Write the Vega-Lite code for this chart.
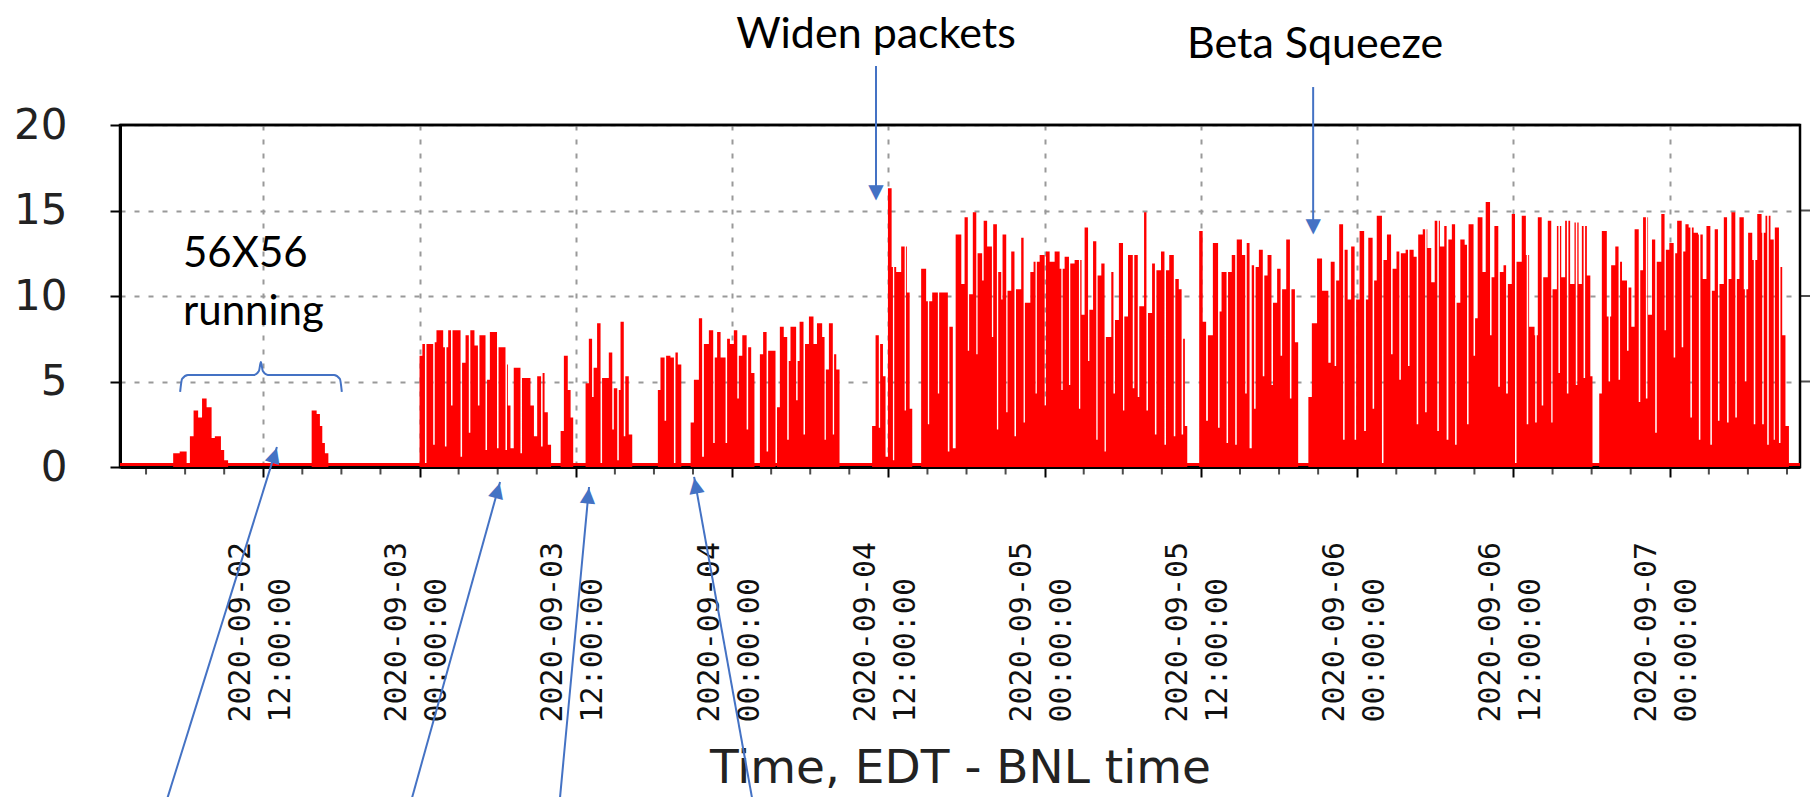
{
"$schema": "https://vega.github.io/schema/vega-lite/v6.json",
"width": 1680, "height": 342,
"autosize": {"type": "none"},
"padding": {"left": 120, "top": 125, "right": 20, "bottom": 330},
"background": "white",
"config": {"view": {"stroke": "black", "strokeWidth": 2.5}, "font": "DejaVu Sans"},
"datasets": {
"series": [
{"t":"2020-09-02T01:00","v":0},{"t":"2020-09-02T05:05","v":0.8},{"t":"2020-09-02T05:35","v":0.9},{"t":"2020-09-02T06:07","v":0.2},{"t":"2020-09-02T06:22","v":1.8},{"t":"2020-09-02T06:39","v":3.3},{"t":"2020-09-02T07:00","v":2.9},{"t":"2020-09-02T07:18","v":4.0},{"t":"2020-09-02T07:39","v":3.5},{"t":"2020-09-02T08:02","v":1.7},{"t":"2020-09-02T08:17","v":1.8},{"t":"2020-09-02T08:45","v":1.0},{"t":"2020-09-02T09:00","v":0.4},{"t":"2020-09-02T09:18","v":0},
{"t":"2020-09-02T15:43","v":3.3},{"t":"2020-09-02T16:06","v":3.1},{"t":"2020-09-02T16:21","v":2.4},{"t":"2020-09-02T16:32","v":1.4},{"t":"2020-09-02T16:44","v":0.8},{"t":"2020-09-02T17:00","v":0},
{"t":"2020-09-03T00:00","v":6.5},{"t":"2020-09-03T00:13","v":7.2},{"t":"2020-09-03T00:25","v":0.2},{"t":"2020-09-03T00:32","v":7.2},{"t":"2020-09-03T01:03","v":1.3},{"t":"2020-09-03T01:10","v":7.3},{"t":"2020-09-03T01:18","v":8.0},{"t":"2020-09-03T01:49","v":7.0},{"t":"2020-09-03T01:57","v":1.2},{"t":"2020-09-03T02:04","v":7.0},{"t":"2020-09-03T02:12","v":8.0},{"t":"2020-09-03T02:25","v":3.6},{"t":"2020-09-03T02:32","v":8.0},{"t":"2020-09-03T03:09","v":0.6},{"t":"2020-09-03T03:16","v":6.1},{"t":"2020-09-03T03:32","v":7.7},{"t":"2020-09-03T03:47","v":2.0},{"t":"2020-09-03T03:54","v":8.0},{"t":"2020-09-03T04:13","v":7.1},{"t":"2020-09-03T04:29","v":3.6},{"t":"2020-09-03T04:36","v":7.7},{"t":"2020-09-03T05:04","v":1.0},{"t":"2020-09-03T05:11","v":5.1},{"t":"2020-09-03T05:24","v":7.9},{"t":"2020-09-03T05:57","v":1.1},{"t":"2020-09-03T06:04","v":7.0},{"t":"2020-09-03T06:36","v":1.0},{"t":"2020-09-03T06:43","v":6.0},{"t":"2020-09-03T06:47","v":3.6},{"t":"2020-09-03T06:59","v":1.1},{"t":"2020-09-03T07:14","v":5.8},{"t":"2020-09-03T07:45","v":0.8},{"t":"2020-09-03T07:52","v":5.2},{"t":"2020-09-03T08:31","v":3.6},{"t":"2020-09-03T08:47","v":1.8},{"t":"2020-09-03T09:02","v":5.3},{"t":"2020-09-03T09:20","v":1.2},{"t":"2020-09-03T09:27","v":5.5},{"t":"2020-09-03T09:36","v":3.2},{"t":"2020-09-03T09:51","v":1.3},{"t":"2020-09-03T10:06","v":0},
{"t":"2020-09-03T10:50","v":2.1},{"t":"2020-09-03T11:05","v":6.5},{"t":"2020-09-03T11:23","v":4.5},{"t":"2020-09-03T11:36","v":2.9},{"t":"2020-09-03T11:48","v":0},
{"t":"2020-09-03T12:45","v":4.9},{"t":"2020-09-03T13:00","v":7.5},{"t":"2020-09-03T13:15","v":4.1},{"t":"2020-09-03T13:22","v":5.8},{"t":"2020-09-03T13:38","v":8.4},{"t":"2020-09-03T13:54","v":0.1},{"t":"2020-09-03T14:01","v":5.2},{"t":"2020-09-03T14:32","v":6.7},{"t":"2020-09-03T14:48","v":2.2},{"t":"2020-09-03T14:55","v":4.6},{"t":"2020-09-03T15:11","v":0.4},{"t":"2020-09-03T15:18","v":4.5},{"t":"2020-09-03T15:26","v":8.5},{"t":"2020-09-03T15:41","v":1.8},{"t":"2020-09-03T15:48","v":5.3},{"t":"2020-09-03T16:04","v":1.9},{"t":"2020-09-03T16:20","v":0},
{"t":"2020-09-03T18:18","v":4.5},{"t":"2020-09-03T18:30","v":6.4},{"t":"2020-09-03T18:49","v":2.7},{"t":"2020-09-03T18:56","v":6.5},{"t":"2020-09-03T19:16","v":6.4},{"t":"2020-09-03T19:32","v":0.2},{"t":"2020-09-03T19:39","v":6.7},{"t":"2020-09-03T19:50","v":6.0},{"t":"2020-09-03T20:06","v":0},
{"t":"2020-09-03T20:49","v":2.6},{"t":"2020-09-03T21:04","v":5.1},{"t":"2020-09-03T21:27","v":8.7},{"t":"2020-09-03T21:42","v":0.6},{"t":"2020-09-03T21:50","v":7.2},{"t":"2020-09-03T22:13","v":8.0},{"t":"2020-09-03T22:33","v":1.4},{"t":"2020-09-03T22:40","v":6.4},{"t":"2020-09-03T22:51","v":7.9},{"t":"2020-09-03T23:07","v":6.4},{"t":"2020-09-03T23:30","v":1.4},{"t":"2020-09-03T23:37","v":7.5},{"t":"2020-09-03T23:50","v":7.2},{"t":"2020-09-04T00:08","v":8.0},{"t":"2020-09-04T00:24","v":4.0},{"t":"2020-09-04T00:31","v":6.5},{"t":"2020-09-04T00:47","v":7.7},{"t":"2020-09-04T01:07","v":2.2},{"t":"2020-09-04T01:14","v":7.0},{"t":"2020-09-04T01:28","v":5.5},{"t":"2020-09-04T01:43","v":0},
{"t":"2020-09-04T02:08","v":6.6},{"t":"2020-09-04T02:23","v":7.9},{"t":"2020-09-04T02:39","v":0.9},{"t":"2020-09-04T02:46","v":6.8},{"t":"2020-09-04T03:20","v":0},{"t":"2020-09-04T03:27","v":3.5},{"t":"2020-09-04T03:40","v":8.2},{"t":"2020-09-04T03:58","v":7.6},{"t":"2020-09-04T04:14","v":1.6},{"t":"2020-09-04T04:21","v":6.2},{"t":"2020-09-04T04:29","v":8.2},{"t":"2020-09-04T04:55","v":3.9},{"t":"2020-09-04T05:02","v":6.2},{"t":"2020-09-04T05:11","v":8.5},{"t":"2020-09-04T05:29","v":1.9},{"t":"2020-09-04T05:36","v":7.2},{"t":"2020-09-04T05:54","v":8.8},{"t":"2020-09-04T06:15","v":7.2},{"t":"2020-09-04T06:31","v":8.4},{"t":"2020-09-04T06:55","v":7.6},{"t":"2020-09-04T07:06","v":1.6},{"t":"2020-09-04T07:12","v":5.7},{"t":"2020-09-04T07:26","v":8.4},{"t":"2020-09-04T07:44","v":1.9},{"t":"2020-09-04T07:50","v":6.6},{"t":"2020-09-04T08:00","v":5.7},{"t":"2020-09-04T08:15","v":0},
{"t":"2020-09-04T10:45","v":2.4},{"t":"2020-09-04T11:01","v":7.7},{"t":"2020-09-04T11:16","v":2.3},{"t":"2020-09-04T11:22","v":7.2},{"t":"2020-09-04T11:35","v":5.3},{"t":"2020-09-04T11:47","v":0.6},{"t":"2020-09-04T11:58","v":16.3},{"t":"2020-09-04T12:15","v":11.7},{"t":"2020-09-04T12:21","v":0.4},{"t":"2020-09-04T12:27","v":11.7},{"t":"2020-09-04T12:36","v":11.4},{"t":"2020-09-04T12:59","v":12.9},{"t":"2020-09-04T13:15","v":3.3},{"t":"2020-09-04T13:21","v":12.9},{"t":"2020-09-04T13:25","v":10.2},{"t":"2020-09-04T13:38","v":3.4},{"t":"2020-09-04T13:50","v":0},
{"t":"2020-09-04T14:31","v":11.6},{"t":"2020-09-04T14:54","v":9.7},{"t":"2020-09-04T15:02","v":2.5},{"t":"2020-09-04T15:08","v":9.7},{"t":"2020-09-04T15:22","v":10.2},{"t":"2020-09-04T15:48","v":4.3},{"t":"2020-09-04T15:54","v":10.2},{"t":"2020-09-04T16:34","v":0.9},{"t":"2020-09-04T16:41","v":8.2},{"t":"2020-09-04T16:57","v":1.1},{"t":"2020-09-04T17:10","v":13.6},{"t":"2020-09-04T17:36","v":10.7},{"t":"2020-09-04T17:51","v":14.6},{"t":"2020-09-04T18:06","v":6.8},{"t":"2020-09-04T18:12","v":10.1},{"t":"2020-09-04T18:29","v":14.9},{"t":"2020-09-04T18:45","v":6.6},{"t":"2020-09-04T18:51","v":12.5},{"t":"2020-09-04T19:12","v":10.9},{"t":"2020-09-04T19:19","v":14.4},{"t":"2020-09-04T19:35","v":12.9},{"t":"2020-09-04T19:57","v":7.6},{"t":"2020-09-04T20:03","v":14.2},{"t":"2020-09-04T20:20","v":2.2},{"t":"2020-09-04T20:26","v":11.4},{"t":"2020-09-04T20:40","v":9.8},{"t":"2020-09-04T20:46","v":13.6},{"t":"2020-09-04T21:03","v":3.2},{"t":"2020-09-04T21:09","v":10.3},{"t":"2020-09-04T21:26","v":12.6},{"t":"2020-09-04T21:41","v":1.8},{"t":"2020-09-04T21:48","v":10.4},{"t":"2020-09-04T22:12","v":13.4},{"t":"2020-09-04T22:23","v":2.6},{"t":"2020-09-04T22:29","v":9.6},{"t":"2020-09-04T22:54","v":11.4},{"t":"2020-09-04T23:09","v":12.0},{"t":"2020-09-04T23:18","v":4.3},{"t":"2020-09-04T23:24","v":12.0},{"t":"2020-09-04T23:37","v":12.4},
{"t":"2020-09-05T00:00","v":3.6},{"t":"2020-09-05T00:06","v":12.6},{"t":"2020-09-05T00:23","v":12.0},{"t":"2020-09-05T00:46","v":12.6},{"t":"2020-09-05T01:09","v":11.6},{"t":"2020-09-05T01:17","v":4.5},{"t":"2020-09-05T01:23","v":11.6},{"t":"2020-09-05T01:32","v":12.3},{"t":"2020-09-05T01:52","v":4.8},{"t":"2020-09-05T01:58","v":11.9},{"t":"2020-09-05T02:18","v":12.1},{"t":"2020-09-05T02:38","v":3.4},{"t":"2020-09-05T02:44","v":12.1},{"t":"2020-09-05T02:50","v":8.9},{"t":"2020-09-05T03:04","v":14.0},{"t":"2020-09-05T03:20","v":6.2},{"t":"2020-09-05T03:26","v":9.2},{"t":"2020-09-05T03:43","v":13.2},{"t":"2020-09-05T03:58","v":1.6},{"t":"2020-09-05T04:04","v":11.2},{"t":"2020-09-05T04:21","v":11.9},{"t":"2020-09-05T04:36","v":0.9},{"t":"2020-09-05T04:42","v":7.6},{"t":"2020-09-05T05:07","v":11.4},{"t":"2020-09-05T05:17","v":4.3},{"t":"2020-09-05T05:24","v":8.6},{"t":"2020-09-05T05:42","v":13.1},{"t":"2020-09-05T06:01","v":3.3},{"t":"2020-09-05T06:07","v":8.8},{"t":"2020-09-05T06:24","v":12.4},{"t":"2020-09-05T06:46","v":4.6},{"t":"2020-09-05T06:53","v":12.4},{"t":"2020-09-05T07:09","v":4.1},{"t":"2020-09-05T07:16","v":9.4},{"t":"2020-09-05T07:38","v":14.9},{"t":"2020-09-05T07:49","v":3.3},{"t":"2020-09-05T07:56","v":9.0},{"t":"2020-09-05T08:15","v":11.9},{"t":"2020-09-05T08:28","v":1.9},{"t":"2020-09-05T08:35","v":11.5},{"t":"2020-09-05T08:56","v":12.6},{"t":"2020-09-05T09:12","v":1.3},{"t":"2020-09-05T09:19","v":11.5},{"t":"2020-09-05T09:34","v":12.4},{"t":"2020-09-05T09:55","v":1.8},{"t":"2020-09-05T10:02","v":11.0},{"t":"2020-09-05T10:18","v":10.4},{"t":"2020-09-05T10:31","v":1.9},{"t":"2020-09-05T10:38","v":7.5},{"t":"2020-09-05T10:46","v":2.4},{"t":"2020-09-05T10:57","v":0},
{"t":"2020-09-05T11:52","v":13.8},{"t":"2020-09-05T12:08","v":8.5},{"t":"2020-09-05T12:24","v":2.7},{"t":"2020-09-05T12:32","v":7.7},{"t":"2020-09-05T12:55","v":13.1},{"t":"2020-09-05T13:19","v":2.3},{"t":"2020-09-05T13:26","v":9.1},{"t":"2020-09-05T13:35","v":11.4},{"t":"2020-09-05T13:58","v":1.4},{"t":"2020-09-05T14:05","v":11.4},{"t":"2020-09-05T14:22","v":12.4},{"t":"2020-09-05T14:38","v":1.3},{"t":"2020-09-05T14:45","v":13.3},{"t":"2020-09-05T15:09","v":12.4},{"t":"2020-09-05T15:24","v":4.3},{"t":"2020-09-05T15:31","v":13.1},{"t":"2020-09-05T15:44","v":1.1},{"t":"2020-09-05T15:54","v":11.8},{"t":"2020-09-05T16:05","v":3.4},{"t":"2020-09-05T16:12","v":11.7},{"t":"2020-09-05T16:27","v":12.7},{"t":"2020-09-05T16:45","v":5.3},{"t":"2020-09-05T16:52","v":11.2},{"t":"2020-09-05T17:07","v":12.4},{"t":"2020-09-05T17:25","v":4.8},{"t":"2020-09-05T17:32","v":9.6},{"t":"2020-09-05T17:51","v":11.6},{"t":"2020-09-05T18:07","v":6.5},{"t":"2020-09-05T18:14","v":10.4},{"t":"2020-09-05T18:33","v":13.3},{"t":"2020-09-05T18:50","v":4.0},{"t":"2020-09-05T18:57","v":10.4},{"t":"2020-09-05T19:13","v":7.3},{"t":"2020-09-05T19:28","v":0},
{"t":"2020-09-05T20:15","v":4.1},{"t":"2020-09-05T20:31","v":8.4},{"t":"2020-09-05T20:55","v":12.2},{"t":"2020-09-05T21:18","v":10.3},{"t":"2020-09-05T21:47","v":6.1},{"t":"2020-09-05T21:58","v":12.0},{"t":"2020-09-05T22:16","v":5.9},{"t":"2020-09-05T22:23","v":10.9},{"t":"2020-09-05T22:37","v":14.2},{"t":"2020-09-05T22:55","v":1.6},{"t":"2020-09-05T23:02","v":12.7},{"t":"2020-09-05T23:16","v":9.8},{"t":"2020-09-05T23:32","v":12.9},{"t":"2020-09-05T23:48","v":1.6},{"t":"2020-09-05T23:55","v":9.8},
{"t":"2020-09-06T00:11","v":13.8},{"t":"2020-09-06T00:32","v":2.1},{"t":"2020-09-06T00:40","v":9.8},{"t":"2020-09-06T00:51","v":13.4},{"t":"2020-09-06T01:11","v":3.4},{"t":"2020-09-06T01:18","v":10.9},{"t":"2020-09-06T01:30","v":14.7},{"t":"2020-09-06T01:54","v":0.1},{"t":"2020-09-06T02:01","v":12.1},{"t":"2020-09-06T02:17","v":13.6},{"t":"2020-09-06T02:36","v":6.6},{"t":"2020-09-06T02:43","v":11.6},{"t":"2020-09-06T03:01","v":12.6},{"t":"2020-09-06T03:14","v":5.1},{"t":"2020-09-06T03:21","v":12.5},{"t":"2020-09-06T03:43","v":12.7},{"t":"2020-09-06T03:54","v":5.9},{"t":"2020-09-06T04:01","v":12.7},{"t":"2020-09-06T04:20","v":12.3},{"t":"2020-09-06T04:34","v":2.5},{"t":"2020-09-06T04:41","v":13.6},{"t":"2020-09-06T05:02","v":13.9},{"t":"2020-09-06T05:13","v":3.2},{"t":"2020-09-06T05:20","v":13.9},{"t":"2020-09-06T05:23","v":12.8},{"t":"2020-09-06T05:41","v":10.8},{"t":"2020-09-06T05:57","v":14.4},{"t":"2020-09-06T06:09","v":2.1},{"t":"2020-09-06T06:16","v":14.4},{"t":"2020-09-06T06:21","v":12.9},{"t":"2020-09-06T06:41","v":14.1},{"t":"2020-09-06T06:52","v":1.6},{"t":"2020-09-06T07:00","v":13.3},{"t":"2020-09-06T07:16","v":14.2},{"t":"2020-09-06T07:31","v":1.3},{"t":"2020-09-06T07:38","v":9.6},{"t":"2020-09-06T07:55","v":13.3},{"t":"2020-09-06T08:15","v":13.0},{"t":"2020-09-06T08:26","v":2.5},{"t":"2020-09-06T08:33","v":14.2},{"t":"2020-09-06T08:56","v":6.5},{"t":"2020-09-06T09:03","v":8.7},{"t":"2020-09-06T09:15","v":14.6},{"t":"2020-09-06T09:37","v":11.4},{"t":"2020-09-06T09:52","v":15.5},{"t":"2020-09-06T10:12","v":7.7},{"t":"2020-09-06T10:19","v":11.1},{"t":"2020-09-06T10:32","v":14.1},{"t":"2020-09-06T10:50","v":4.7},{"t":"2020-09-06T10:57","v":11.4},{"t":"2020-09-06T11:14","v":11.8},{"t":"2020-09-06T11:26","v":4.3},{"t":"2020-09-06T11:34","v":10.7},{"t":"2020-09-06T11:52","v":14.8},{"t":"2020-09-06T12:07","v":0.1},{"t":"2020-09-06T12:14","v":12.0},{"t":"2020-09-06T12:38","v":14.7},{"t":"2020-09-06T12:57","v":12.4},{"t":"2020-09-06T13:01","v":2.5},{"t":"2020-09-06T13:08","v":12.4},{"t":"2020-09-06T13:12","v":8.2},{"t":"2020-09-06T13:37","v":7.7},{"t":"2020-09-06T13:40","v":2.6},{"t":"2020-09-06T13:47","v":7.7},{"t":"2020-09-06T13:52","v":14.6},{"t":"2020-09-06T14:10","v":3.6},{"t":"2020-09-06T14:17","v":11.1},{"t":"2020-09-06T14:38","v":14.4},{"t":"2020-09-06T14:54","v":2.6},{"t":"2020-09-06T15:00","v":10.4},{"t":"2020-09-06T15:20","v":14.1},{"t":"2020-09-06T15:27","v":5.5},{"t":"2020-09-06T15:34","v":14.1},{"t":"2020-09-06T15:40","v":11.1},{"t":"2020-09-06T15:58","v":14.4},{"t":"2020-09-06T16:06","v":4.3},{"t":"2020-09-06T16:13","v":14.4},{"t":"2020-09-06T16:21","v":10.7},{"t":"2020-09-06T16:41","v":14.3},{"t":"2020-09-06T16:47","v":4.8},{"t":"2020-09-06T16:54","v":14.3},{"t":"2020-09-06T17:00","v":10.7},{"t":"2020-09-06T17:15","v":14.1},{"t":"2020-09-06T17:23","v":5.2},{"t":"2020-09-06T17:30","v":14.1},{"t":"2020-09-06T17:38","v":11.2},{"t":"2020-09-06T17:54","v":5.3},{"t":"2020-09-06T18:04","v":0},
{"t":"2020-09-06T18:35","v":4.3},{"t":"2020-09-06T18:47","v":13.8},{"t":"2020-09-06T19:10","v":8.8},{"t":"2020-09-06T19:18","v":5.0},{"t":"2020-09-06T19:25","v":8.8},{"t":"2020-09-06T19:30","v":11.8},{"t":"2020-09-06T19:49","v":12.9},{"t":"2020-09-06T20:04","v":5.1},{"t":"2020-09-06T20:11","v":12.0},{"t":"2020-09-06T20:20","v":10.9},{"t":"2020-09-06T20:43","v":6.8},{"t":"2020-09-06T20:50","v":10.5},{"t":"2020-09-06T21:03","v":8.2},{"t":"2020-09-06T21:18","v":13.9},{"t":"2020-09-06T21:37","v":3.8},{"t":"2020-09-06T21:44","v":11.5},{"t":"2020-09-06T21:57","v":14.6},{"t":"2020-09-06T22:10","v":4.0},{"t":"2020-09-06T22:17","v":14.6},{"t":"2020-09-06T22:20","v":8.9},{"t":"2020-09-06T22:38","v":13.3},{"t":"2020-09-06T22:53","v":2.0},{"t":"2020-09-06T23:00","v":12.0},{"t":"2020-09-06T23:21","v":14.8},{"t":"2020-09-06T23:36","v":8.0},{"t":"2020-09-06T23:42","v":12.7},{"t":"2020-09-06T23:58","v":13.1},
{"t":"2020-09-07T00:18","v":6.4},{"t":"2020-09-07T00:25","v":12.5},{"t":"2020-09-07T00:34","v":14.4},{"t":"2020-09-07T00:55","v":7.0},{"t":"2020-09-07T01:02","v":12.6},{"t":"2020-09-07T01:12","v":14.2},{"t":"2020-09-07T01:27","v":14.0},{"t":"2020-09-07T01:35","v":2.9},{"t":"2020-09-07T01:42","v":14.0},{"t":"2020-09-07T01:50","v":13.7},{"t":"2020-09-07T02:10","v":13.6},{"t":"2020-09-07T02:14","v":1.6},{"t":"2020-09-07T02:21","v":13.6},{"t":"2020-09-07T02:32","v":11.0},{"t":"2020-09-07T02:49","v":14.1},{"t":"2020-09-07T03:07","v":1.3},{"t":"2020-09-07T03:14","v":10.3},{"t":"2020-09-07T03:27","v":13.9},{"t":"2020-09-07T03:42","v":2.7},{"t":"2020-09-07T03:49","v":10.7},{"t":"2020-09-07T04:09","v":14.6},{"t":"2020-09-07T04:24","v":2.6},{"t":"2020-09-07T04:31","v":11.0},{"t":"2020-09-07T04:44","v":14.9},{"t":"2020-09-07T05:02","v":2.9},{"t":"2020-09-07T05:09","v":11.0},{"t":"2020-09-07T05:21","v":14.6},{"t":"2020-09-07T05:41","v":10.4},{"t":"2020-09-07T05:46","v":5.0},{"t":"2020-09-07T05:53","v":10.4},{"t":"2020-09-07T06:01","v":13.7},{"t":"2020-09-07T06:20","v":12.1},{"t":"2020-09-07T06:27","v":2.5},{"t":"2020-09-07T06:34","v":12.1},{"t":"2020-09-07T06:43","v":14.8},{"t":"2020-09-07T07:03","v":13.7},{"t":"2020-09-07T07:06","v":2.5},{"t":"2020-09-07T07:13","v":13.7},{"t":"2020-09-07T07:21","v":14.7},{"t":"2020-09-07T07:29","v":1.3},{"t":"2020-09-07T07:36","v":14.7},{"t":"2020-09-07T07:44","v":13.3},{"t":"2020-09-07T07:59","v":1.6},{"t":"2020-09-07T08:04","v":14.0},{"t":"2020-09-07T08:23","v":1.4},{"t":"2020-09-07T08:30","v":11.7},{"t":"2020-09-07T08:38","v":7.7},{"t":"2020-09-07T08:53","v":2.4},{"t":"2020-09-07T09:09","v":0},{"t":"2020-09-07T10:00","v":0}
],
"base": [{"t1":"2020-09-02T01:00","t2":"2020-09-07T10:00","v":0}],
"rticks": [{"v":5},{"v":10},{"v":15}],
"arrows": [
{"id":"widen","t1":"2020-09-04T11:03","v1":23.45,"t2":"2020-09-04T11:03","v2":16.2},
{"id":"beta","t1":"2020-09-05T20:37","v1":22.22,"t2":"2020-09-05T20:37","v2":14.21},
{"id":"a1","t1":"2020-09-02T04:35","v1":-19.5,"t2":"2020-09-02T13:03","v2":1.17},
{"id":"a2","t1":"2020-09-02T23:22","v1":-19.5,"t2":"2020-09-03T06:11","v2":-0.88},
{"id":"a3","t1":"2020-09-03T10:46","v1":-19.5,"t2":"2020-09-03T13:01","v2":-1.17},
{"id":"a4","t1":"2020-09-04T01:34","v1":-19.5,"t2":"2020-09-03T21:05","v2":-0.58}
],
"heads": [
{"id":"widen","t":"2020-09-04T11:03","v":16.08},
{"id":"beta","t":"2020-09-05T20:37","v":14.09},
{"id":"a1","t":"2020-09-02T12:52","v":0.73},
{"id":"a2","t":"2020-09-03T06:00","v":-1.33},
{"id":"a3","t":"2020-09-03T12:57","v":-1.64},
{"id":"a4","t":"2020-09-03T21:11","v":-1.05}
],
"minor": [
{"t":"2020-09-02T03:00"},{"t":"2020-09-02T06:00"},{"t":"2020-09-02T09:00"},{"t":"2020-09-02T15:00"},{"t":"2020-09-02T18:00"},{"t":"2020-09-02T21:00"},
{"t":"2020-09-03T03:00"},{"t":"2020-09-03T06:00"},{"t":"2020-09-03T09:00"},{"t":"2020-09-03T15:00"},{"t":"2020-09-03T18:00"},{"t":"2020-09-03T21:00"},
{"t":"2020-09-04T03:00"},{"t":"2020-09-04T06:00"},{"t":"2020-09-04T09:00"},{"t":"2020-09-04T15:00"},{"t":"2020-09-04T18:00"},{"t":"2020-09-04T21:00"},
{"t":"2020-09-05T03:00"},{"t":"2020-09-05T06:00"},{"t":"2020-09-05T09:00"},{"t":"2020-09-05T15:00"},{"t":"2020-09-05T18:00"},{"t":"2020-09-05T21:00"},
{"t":"2020-09-06T03:00"},{"t":"2020-09-06T06:00"},{"t":"2020-09-06T09:00"},{"t":"2020-09-06T15:00"},{"t":"2020-09-06T18:00"},{"t":"2020-09-06T21:00"},
{"t":"2020-09-07T03:00"},{"t":"2020-09-07T06:00"},{"t":"2020-09-07T09:00"}
],
"brace": [
{"t":"2020-09-02T05:37","v":4.39},{"t":"2020-09-02T05:46","v":5.15},{"t":"2020-09-02T06:13","v":5.38},{"t":"2020-09-02T11:17","v":5.38},{"t":"2020-09-02T11:40","v":5.61},{"t":"2020-09-02T11:49","v":6.14},{"t":"2020-09-02T11:58","v":5.61},{"t":"2020-09-02T12:21","v":5.38},{"t":"2020-09-02T17:26","v":5.38},{"t":"2020-09-02T17:53","v":5.15},{"t":"2020-09-02T18:02","v":4.39}
],
"notesC": [
{"t":"2020-09-04T11:03","v":24.5,"label":"Widen packets"},
{"t":"2020-09-05T20:46","v":23.9,"label":"Beta Squeeze"}
],
"notesL": [
{"t":"2020-09-02T05:50","v":11.7,"label":"56X56"},
{"t":"2020-09-02T05:50","v":8.3,"label":"running"}
]
},
"layer": [
{
"data": {"name": "series"},
"mark": {"type": "area", "interpolate": "step-after", "color": "#ff0000"},
"encoding": {
"x": {"field": "t", "type": "temporal",
"scale": {"domain": [{"year":2020,"month":9,"date":2,"hours":1},{"year":2020,"month":9,"date":7,"hours":10}]},
"axis": {
"values": [{"year":2020,"month":9,"date":2,"hours":12},{"year":2020,"month":9,"date":3,"hours":0},{"year":2020,"month":9,"date":3,"hours":12},{"year":2020,"month":9,"date":4,"hours":0},{"year":2020,"month":9,"date":4,"hours":12},{"year":2020,"month":9,"date":5,"hours":0},{"year":2020,"month":9,"date":5,"hours":12},{"year":2020,"month":9,"date":6,"hours":0},{"year":2020,"month":9,"date":6,"hours":12},{"year":2020,"month":9,"date":7,"hours":0}],
"labelExpr": "[timeFormat(datum.value, '%Y-%m-%d'), timeFormat(datum.value, '%H:%M:%S')]",
"labelAngle": 270, "labelAlign": "left", "labelBaseline": "middle",
"labelFont": "DejaVu Sans Mono", "labelFontSize": 30, "labelLineHeight": 40, "labelLimit": 600,
"labelPadding": 245, "labelOffset": -23, "labelColor": "#111111", "labelOverlap": false, "labelFlush": false,
"tickSize": 10, "tickWidth": 2, "tickColor": "black",
"domainColor": "black", "domainWidth": 3,
"grid": true, "gridDash": [5, 9], "gridColor": "#999999", "gridWidth": 2,
"title": "Time, EDT - BNL time", "titleFont": "DejaVu Sans", "titleFontSize": 47, "titleFontWeight": "normal", "titleColor": "#222222", "titlePadding": 115, "titleBaseline": "alphabetic"
}},
"y": {"field": "v", "type": "quantitative",
"scale": {"domain": [0, 20], "nice": false, "zero": false},
"axis": {
"values": [0, 5, 10, 15, 20], "labelFont": "DejaVu Sans", "labelFontSize": 42, "labelColor": "#222222",
"labelPadding": 43, "labelOverlap": false, "labelBaseline": "middle",
"tickSize": 10, "tickWidth": 2, "tickColor": "black",
"domainColor": "black", "domainWidth": 3,
"grid": true, "gridDash": [5, 9], "gridColor": "#999999", "gridWidth": 2,
"title": null
}}
}
},
{
"data": {"name": "base"},
"mark": {"type": "rule", "color": "#ff0000", "strokeWidth": 3, "yOffset": -2.5},
"encoding": {"x": {"field": "t1", "type": "temporal"}, "x2": {"field": "t2"}, "y": {"field": "v", "type": "quantitative"}}
},
{
"data": {"name": "base"},
"mark": {"type": "rule", "color": "black", "strokeWidth": 2.5},
"encoding": {"x": {"field": "t1", "type": "temporal"}, "x2": {"field": "t2"}, "y": {"datum": 20}}
},
{
"data": {"name": "rticks"},
"mark": {"type": "tick", "orient": "horizontal", "color": "black", "size": 9, "thickness": 2, "xOffset": 5.5},
"encoding": {"x": {"datum": {"year":2020,"month":9,"date":7,"hours":10}, "type": "temporal"}, "y": {"field": "v", "type": "quantitative"}}
},
{
"data": {"name": "brace"},
"mark": {"type": "line", "color": "#4472C4", "strokeWidth": 2, "interpolate": "monotone"},
"encoding": {"x": {"field": "t", "type": "temporal"}, "y": {"field": "v", "type": "quantitative"}}
},
{
"data": {"name": "arrows"},
"mark": {"type": "rule", "color": "#4472C4", "strokeWidth": 2},
"encoding": {"x": {"field": "t1", "type": "temporal"}, "x2": {"field": "t2"}, "y": {"field": "v1", "type": "quantitative"}, "y2": {"field": "v2"}}
},
{
"data": {"name": "heads"},
"transform": [{"filter": "datum.id == 'widen' || datum.id == 'beta'"}],
"mark": {"type": "text", "text": "▼", "font": "DejaVu Sans", "fontSize": 20, "align": "center", "baseline": "middle", "color": "#4472C4"},
"encoding": {"x": {"field": "t", "type": "temporal"}, "y": {"field": "v", "type": "quantitative"}}
},
{
"data": {"name": "heads"},
"transform": [{"filter": "datum.id == 'a1'"}],
"mark": {"type": "text", "text": "▲", "font": "DejaVu Sans", "fontSize": 20, "align": "center", "baseline": "middle", "color": "#4472C4", "angle": 17.3},
"encoding": {"x": {"field": "t", "type": "temporal"}, "y": {"field": "v", "type": "quantitative"}}
},
{
"data": {"name": "heads"},
"transform": [{"filter": "datum.id == 'a2'"}],
"mark": {"type": "text", "text": "▲", "font": "DejaVu Sans", "fontSize": 20, "align": "center", "baseline": "middle", "color": "#4472C4", "angle": 15.6},
"encoding": {"x": {"field": "t", "type": "temporal"}, "y": {"field": "v", "type": "quantitative"}}
},
{
"data": {"name": "heads"},
"transform": [{"filter": "datum.id == 'a3'"}],
"mark": {"type": "text", "text": "▲", "font": "DejaVu Sans", "fontSize": 20, "align": "center", "baseline": "middle", "color": "#4472C4", "angle": 5.3},
"encoding": {"x": {"field": "t", "type": "temporal"}, "y": {"field": "v", "type": "quantitative"}}
},
{
"data": {"name": "heads"},
"transform": [{"filter": "datum.id == 'a4'"}],
"mark": {"type": "text", "text": "▲", "font": "DejaVu Sans", "fontSize": 20, "align": "center", "baseline": "middle", "color": "#4472C4", "angle": -10.3},
"encoding": {"x": {"field": "t", "type": "temporal"}, "y": {"field": "v", "type": "quantitative"}}
},
{
"data": {"name": "notesC"},
"mark": {"type": "text", "font": "Lato", "fontSize": 43, "align": "center", "baseline": "alphabetic", "color": "black"},
"encoding": {"x": {"field": "t", "type": "temporal"}, "y": {"field": "v", "type": "quantitative"}, "text": {"field": "label"}}
},
{
"data": {"name": "notesL"},
"mark": {"type": "text", "font": "Lato", "fontSize": 42, "align": "left", "baseline": "alphabetic", "color": "black"},
"encoding": {"x": {"field": "t", "type": "temporal"}, "y": {"field": "v", "type": "quantitative"}, "text": {"field": "label"}}
},
{
"data": {"name": "minor"},
"mark": {"type": "tick", "orient": "vertical", "color": "black", "size": 6, "thickness": 2, "yOffset": 4.5},
"encoding": {"x": {"field": "t", "type": "temporal"}, "y": {"datum": 0}}
}
]
}
